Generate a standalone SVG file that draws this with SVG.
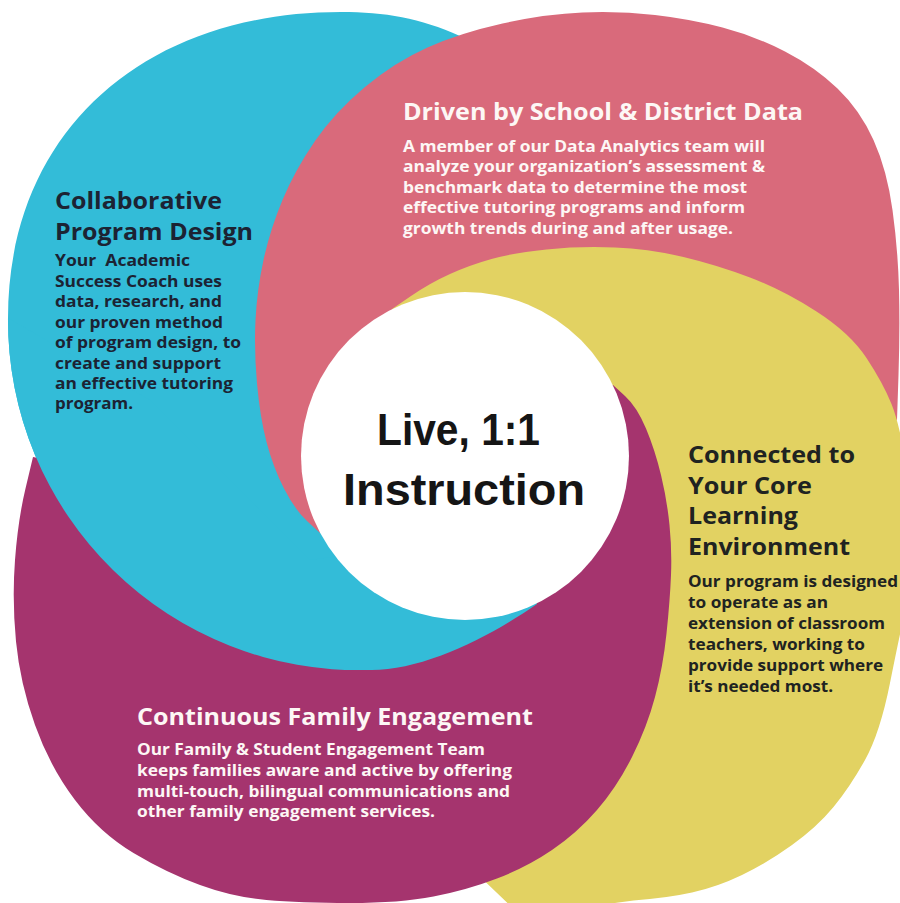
<svg xmlns="http://www.w3.org/2000/svg" width="900" height="903" viewBox="0 0 900 903">
<style>
.t{font-family:"Open Sans","DejaVu Sans",sans-serif;font-weight:700}
.h{font-size:23.5px}
.b{font-size:16px}
.dk{fill:#1c2333}
.dy{fill:#202321}
.wt{fill:#fdf7f5}
.c{font-family:"Liberation Sans",Arial,sans-serif;font-weight:700;font-size:44px;fill:#151515;text-anchor:middle}
.blue{fill:#33bcd8}
.pink{fill:#d96a7b}
.yellow{fill:#e2d262}
.purple{fill:#a5346e}
</style>
<rect width="900" height="903" fill="#ffffff"/>
<g id="shapes">
<path id="blue-base" class="blue" d="M460,36 C420,18 385,12 341,12 C141,12 8,134 8,318 A350 350 0 0 0 367,670 C420,672 488,638 537,604 L470,450 Z"/>
<path id="pink-shape" class="pink" d="M320,533 L307,521 Q295,510 284,488.5 Q273,467 266.5,442 Q260,417 257,383.5 Q254,350 255.5,320 Q257,290 263.5,260 Q270,230 282.5,200 Q295,170 315,141 Q335,112 365,87 Q395,62 427.5,47.5 Q460,33 502.5,23.5 Q545,14 582.5,12.5 Q620,11 655,15 Q690,19 722.5,27.5 Q755,36 785,51.5 Q815,67 837.5,88.5 Q860,110 873.5,140 Q887,170 892.5,210 Q898,250 899,290 Q900,330 898.5,375 L897,420 L650,330 L470,450 Z"/>
<path id="yellow-shape" class="yellow" d="M392,309 L411,296 Q430,283 450,274 Q470,265 491.5,259 Q513,253 546.5,249.5 Q580,246 615,247.5 Q650,249 683.5,257 Q717,265 750,277.5 Q783,290 816.5,311.5 Q850,333 866.5,358 Q883,383 891.5,404 Q900,425 907.5,472.5 Q915,520 911.5,560 Q908,600 904,616.5 Q900,633 890,683 Q880,733 865,760 Q850,787 833.5,807 Q817,827 792,845 Q767,863 742,875 Q717,887 692,892.5 Q667,898 633.5,900.5 L600,905 L520,915 L400,800 L470,450 Z"/>
<path id="purple-shape" class="purple" d="M613,385 L625,396 Q637,407 646,428.5 Q655,450 661,475 Q667,500 669.5,525 Q672,550 671,575 Q670,600 666.5,633.5 Q663,667 655,697 Q647,727 632,757 Q617,787 597,810 Q577,833 552,850 Q527,867 497,878.5 Q467,890 433.5,896.5 Q400,903 350,903 Q300,903 266.5,900 Q233,897 200,885 Q167,873 133.5,853 Q100,833 75,800 Q50,767 35,725 Q20,683 16,641.5 Q12,600 15,560 Q18,520 25.5,488.5 L33,457 L150,480 L330,590 L470,450 Z"/>
<path id="blue-front" class="blue" d="M8,318 A350 350 0 0 0 367,670 C420,672 488,638 537,604 L470,450 L380,550 L310,560 L150,400 Z"/>
<circle id="center-circle" cx="465" cy="456" r="164" fill="#ffffff"/>
</g>
<g id="collaborative-program-design">
<text class="t h dk" x="55" y="209" textLength="167" lengthAdjust="spacingAndGlyphs">Collaborative</text>
<text class="t h dk" x="55" y="240" textLength="198" lengthAdjust="spacingAndGlyphs">Program Design</text>
<text class="t b dk" x="55" y="266" textLength="135" lengthAdjust="spacingAndGlyphs" xml:space="preserve">Your  Academic</text>
<text class="t b dk" x="55" y="286.5" textLength="167" lengthAdjust="spacingAndGlyphs">Success Coach uses</text>
<text class="t b dk" x="55" y="307" textLength="167" lengthAdjust="spacingAndGlyphs">data, research, and</text>
<text class="t b dk" x="55" y="327.5" textLength="168" lengthAdjust="spacingAndGlyphs">our proven method</text>
<text class="t b dk" x="55" y="348" textLength="186" lengthAdjust="spacingAndGlyphs">of program design, to</text>
<text class="t b dk" x="55" y="368.5" textLength="166" lengthAdjust="spacingAndGlyphs">create and support</text>
<text class="t b dk" x="55" y="389" textLength="178" lengthAdjust="spacingAndGlyphs">an effective tutoring</text>
<text class="t b dk" x="55" y="409" textLength="78" lengthAdjust="spacingAndGlyphs">program.</text>
</g>
<g id="driven-by-data">
<text class="t h wt" x="403" y="120" textLength="400" lengthAdjust="spacingAndGlyphs">Driven by School &amp; District Data</text>
<text class="t b wt" x="403" y="151.5" textLength="362" lengthAdjust="spacingAndGlyphs">A member of our Data Analytics team will</text>
<text class="t b wt" x="403" y="172" textLength="362" lengthAdjust="spacingAndGlyphs">analyze your organization’s assessment &amp;</text>
<text class="t b wt" x="403" y="192.5" textLength="344" lengthAdjust="spacingAndGlyphs">benchmark data to determine the most</text>
<text class="t b wt" x="403" y="213" textLength="342" lengthAdjust="spacingAndGlyphs">effective tutoring programs and inform</text>
<text class="t b wt" x="403" y="233.5" textLength="330" lengthAdjust="spacingAndGlyphs">growth trends during and after usage.</text>
</g>
<g id="connected-core-learning">
<text class="t h dy" x="688" y="463" textLength="167" lengthAdjust="spacingAndGlyphs">Connected to</text>
<text class="t h dy" x="688" y="494" textLength="124" lengthAdjust="spacingAndGlyphs">Your Core</text>
<text class="t h dy" x="688" y="524" textLength="110" lengthAdjust="spacingAndGlyphs">Learning</text>
<text class="t h dy" x="688" y="555" textLength="162" lengthAdjust="spacingAndGlyphs">Environment</text>
<text class="t b dy" x="688" y="587" textLength="210" lengthAdjust="spacingAndGlyphs">Our program is designed</text>
<text class="t b dy" x="688" y="608" textLength="140" lengthAdjust="spacingAndGlyphs">to operate as an</text>
<text class="t b dy" x="688" y="629" textLength="197" lengthAdjust="spacingAndGlyphs">extension of classroom</text>
<text class="t b dy" x="688" y="650" textLength="177" lengthAdjust="spacingAndGlyphs">teachers, working to</text>
<text class="t b dy" x="688" y="671" textLength="195" lengthAdjust="spacingAndGlyphs">provide support where</text>
<text class="t b dy" x="688" y="692" textLength="145" lengthAdjust="spacingAndGlyphs">it’s needed most.</text>
</g>
<g id="family-engagement">
<text class="t h wt" x="137" y="725" textLength="396" lengthAdjust="spacingAndGlyphs">Continuous Family Engagement</text>
<text class="t b wt" x="137" y="755" textLength="348" lengthAdjust="spacingAndGlyphs">Our Family &amp; Student Engagement Team</text>
<text class="t b wt" x="137" y="776" textLength="375" lengthAdjust="spacingAndGlyphs">keeps families aware and active by offering</text>
<text class="t b wt" x="137" y="797" textLength="373" lengthAdjust="spacingAndGlyphs">multi-touch, bilingual communications and</text>
<text class="t b wt" x="137" y="817" textLength="298" lengthAdjust="spacingAndGlyphs">other family engagement services.</text>
</g>
<g id="live-instruction">
<text class="c" x="458.5" y="445" textLength="163" lengthAdjust="spacingAndGlyphs">Live, 1:1</text>
<text class="c" x="464" y="505" textLength="242" lengthAdjust="spacingAndGlyphs">Instruction</text>
</g>
</svg>
